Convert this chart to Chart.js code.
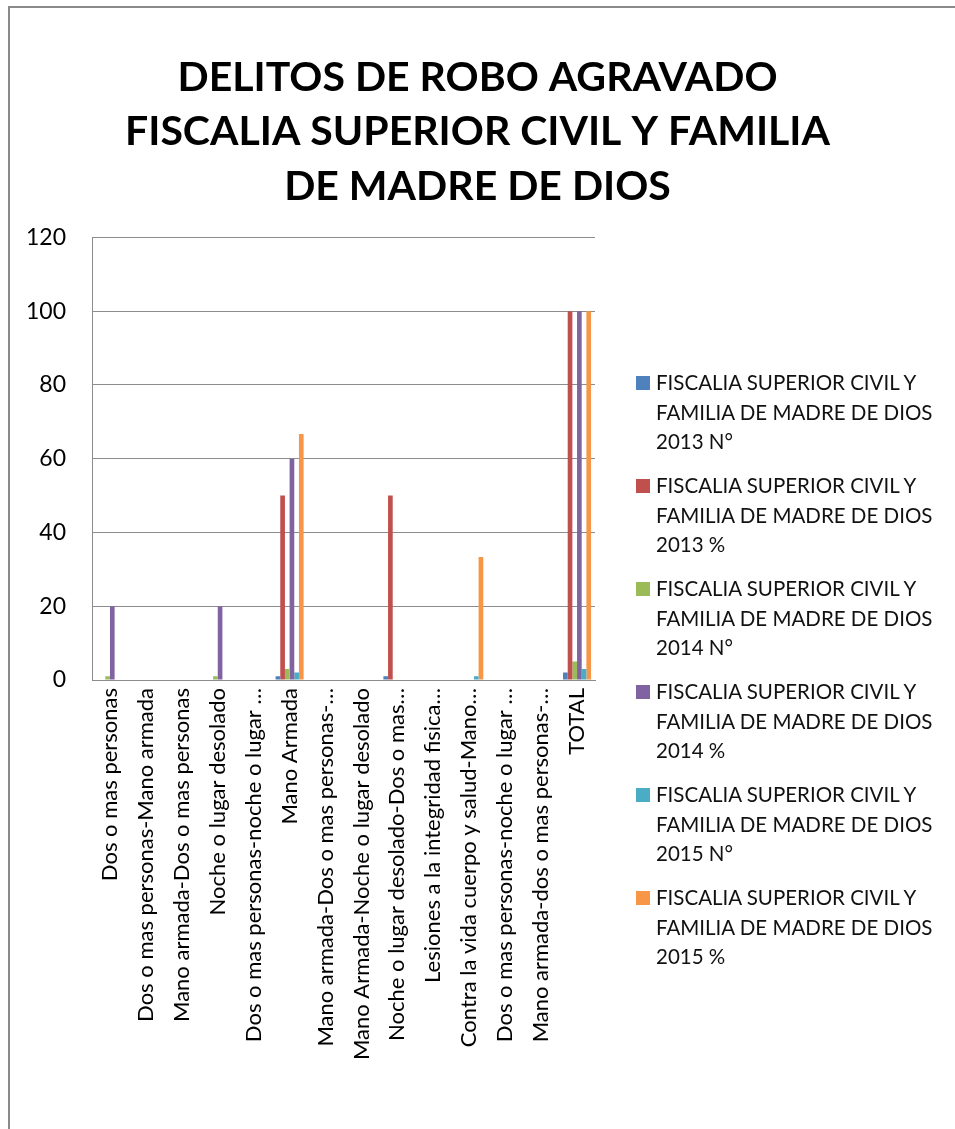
<!DOCTYPE html>
<html>
<head>
<meta charset="utf-8">
<script src="https://cdn.jsdelivr.net/npm/chart.js@4"></script>
<style>
  html, body { margin: 0; padding: 0; background: #fff; }
  #wrap { position: relative; width: 955px; height: 1129px; overflow: hidden; }
  #frame { position: absolute; left: 8px; top: 6px; width: 1000px; height: 1200px; border: 2px solid #8a8a8a; box-sizing: border-box; }
  canvas { position: absolute; left: 0; top: 0; }
  #legend { position: absolute; left: 636px; top: 0; font-family: Lato, sans-serif; font-size: 20.5px; color: #111; }
  .item { position: absolute; left: 0; width: 320px; line-height: 29.5px; }
  .item .sw { position: absolute; left: 0; top: 8px; width: 14px; height: 14px; }
  .item .tx { position: absolute; left: 20px; top: 0; white-space: nowrap; }
</style>
</head>
<body>
<div id="wrap">
  <div id="frame"></div>
  <canvas id="myChart" width="955" height="1129"></canvas>
  <div id="legend"></div>
</div>
<script>
/* DATA */
const titleLines = ['DELITOS DE ROBO AGRAVADO', 'FISCALIA SUPERIOR CIVIL Y FAMILIA', 'DE MADRE DE DIOS'];

const categories = [
  'Dos o mas personas',
  'Dos o mas personas-Mano armada',
  'Mano armada-Dos o mas personas',
  'Noche o lugar desolado',
  'Dos o mas personas-noche o lugar …',
  'Mano Armada',
  'Mano armada-Dos o mas personas-…',
  'Mano Armada-Noche o lugar desolado',
  'Noche o lugar desolado-Dos o mas…',
  'Lesiones a la integridad fisica…',
  'Contra la vida cuerpo y salud-Mano…',
  'Dos o mas personas-noche o lugar …',
  'Mano armada-dos o mas personas-…',
  'TOTAL'
];

const seriesNames = [
  'FISCALIA SUPERIOR CIVIL Y FAMILIA DE MADRE DE DIOS 2013 N°',
  'FISCALIA SUPERIOR CIVIL Y FAMILIA DE MADRE DE DIOS 2013 %',
  'FISCALIA SUPERIOR CIVIL Y FAMILIA DE MADRE DE DIOS 2014 N°',
  'FISCALIA SUPERIOR CIVIL Y FAMILIA DE MADRE DE DIOS 2014 %',
  'FISCALIA SUPERIOR CIVIL Y FAMILIA DE MADRE DE DIOS 2015 N°',
  'FISCALIA SUPERIOR CIVIL Y FAMILIA DE MADRE DE DIOS 2015 %'
];

const num2013 = [0, 0, 0, 0, 0, 1, 0, 0, 1, 0, 0, 0, 0, 2];
const pct2013 = [0, 0, 0, 0, 0, 50, 0, 0, 50, 0, 0, 0, 0, 100];
const num2014 = [1, 0, 0, 1, 0, 3, 0, 0, 0, 0, 0, 0, 0, 5];
const pct2014 = [20, 0, 0, 20, 0, 60, 0, 0, 0, 0, 0, 0, 0, 100];
const num2015 = [0, 0, 0, 0, 0, 2, 0, 0, 0, 0, 1, 0, 0, 3];
const pct2015 = [0, 0, 0, 0, 0, 66.67, 0, 0, 0, 0, 33.33, 0, 0, 100];

const yTicks = [0, 20, 40, 60, 80, 100, 120];

const colors = ['#4F81BD', '#C0504D', '#9BBB59', '#8064A2', '#4BACC6', '#F79646'];
const allSeries = [num2013, pct2013, num2014, pct2014, num2015, pct2015];

/* CHART */
const gridColor = '#8c8c8c';

const ctx = document.getElementById('myChart').getContext('2d');
// eslint-disable-next-line no-undef
const chart = new Chart(ctx, {
  type: 'bar',
  data: {
    labels: categories,
    datasets: allSeries.map(function(values, i) {
      return {
        label: seriesNames[i],
        data: values,
        backgroundColor: colors[i],
        borderWidth: 0,
        categoryPercentage: 0.78,
        barPercentage: 1
      };
    })
  },
  options: {
    responsive: false,
    animation: false,
    layout: { padding: 0 },
    plugins: {
      legend: { display: false },
      tooltip: { enabled: false },
      title: {
        display: true,
        text: titleLines,
        color: '#000',
        font: { family: 'Lato', size: 41, weight: 'bold', lineHeight: 1.32 },
        padding: { top: 51, bottom: 24 }
      }
    },
    scales: {
      x: {
        grid: { display: false, drawTicks: false },
        border: { display: true, color: gridColor, width: 1 },
        ticks: {
          color: '#000',
          font: { family: 'Lato', size: 22 },
          autoSkip: false,
          minRotation: 90,
          maxRotation: 90,
          padding: 8
        },
        afterFit: function(scale) { scale.height = 449; }
      },
      y: {
        min: 0,
        max: 120,
        afterBuildTicks: function(scale) {
          scale.ticks = yTicks.map(function(v) { return { value: v }; });
        },
        grid: { color: gridColor, lineWidth: 1, drawTicks: false },
        border: { display: true, color: gridColor, width: 1 },
        ticks: {
          color: '#000',
          font: { family: 'Lato', size: 23 },
          padding: 26
        },
        afterFit: function(scale) { scale.width = 92; }
      },
      // empty right axis that keeps room for the legend
      side: {
        position: 'right',
        min: 0,
        max: 120,
        grid: { display: false, drawTicks: false },
        border: { display: false },
        ticks: { display: false },
        afterFit: function(scale) { scale.width = 360; }
      }
    }
  }
});

/* LEGEND */
const legendDom = document.getElementById('legend');
seriesNames.forEach(function(name, i) {
  const words = name.split(' ');
  const item = document.createElement('div');
  item.className = 'item';
  item.style.top = (368 + 103 * i) + 'px';
  const sw = document.createElement('div');
  sw.className = 'sw';
  sw.style.background = colors[i];
  const tx = document.createElement('div');
  tx.className = 'tx';
  tx.innerHTML = words.slice(0, 4).join(' ') + '<br>' + words.slice(4, 9).join(' ') + '<br>' + words.slice(9).join(' ');
  item.appendChild(sw);
  item.appendChild(tx);
  legendDom.appendChild(item);
});

console.log(chart.chartArea);
</script>
</body>
</html>
